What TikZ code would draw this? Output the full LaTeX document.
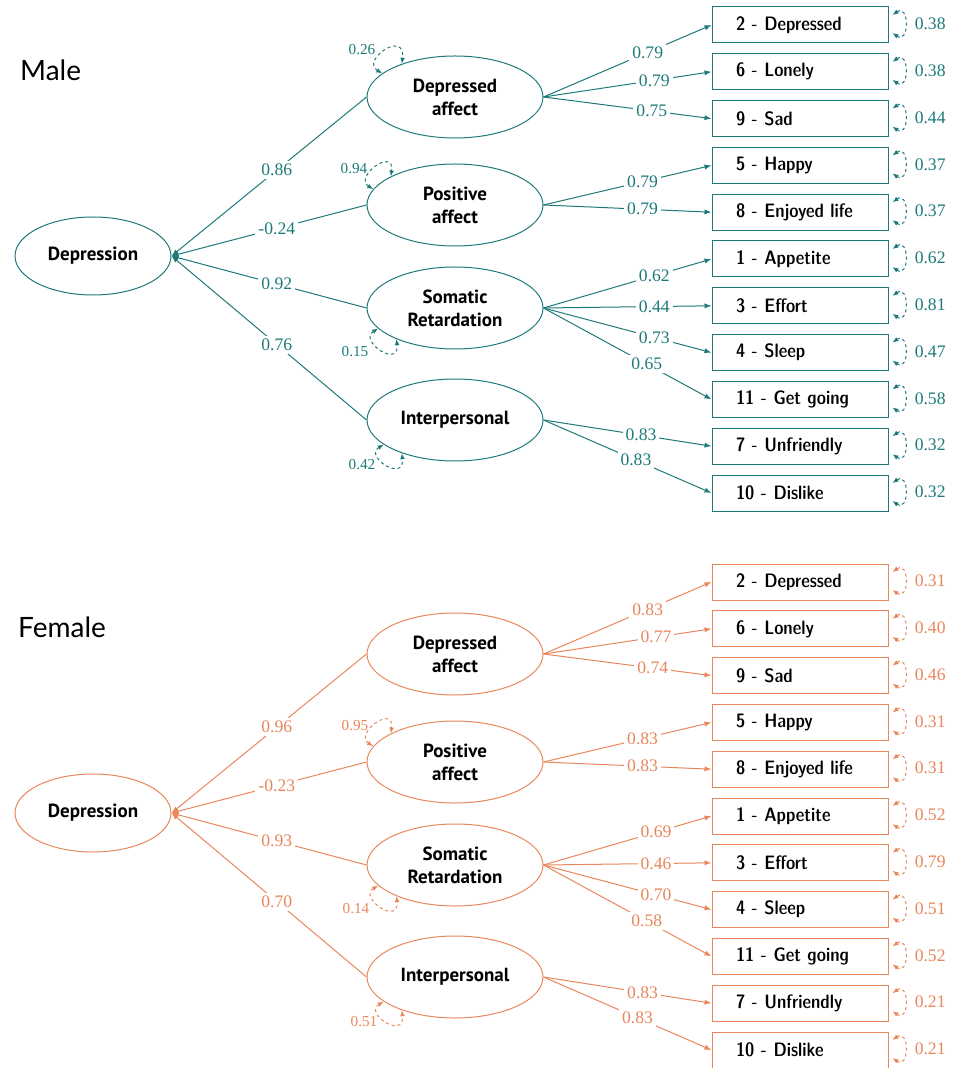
\documentclass[tikz,border=0pt]{standalone}
\usepackage{fontspec}
\usepackage{tikz}
\usetikzlibrary{arrows.meta, shapes}
\newfontfamily\labelfont{Lato}
\newfontfamily\latentfont{PT Sans}
\newfontfamily\itemfont{lmsansdemicond10-regular.otf}
\newfontfamily\coeffont{Liberation Serif}
\definecolor{maleteal}{RGB}{30,122,122}
\definecolor{femaleorange}{RGB}{234,134,92}
\tikzstyle{latent} = [draw, ellipse, text=black, inner sep=1pt, minimum width=88pt, minimum height=41pt, align=center, font=\latentfont\bfseries\fontsize{9.5}{11.5}\selectfont]
\tikzstyle{item} = [draw, rectangle, text=black, minimum height=18pt, text width=64pt, inner xsep=12pt, align=left, font=\itemfont\fontsize{9.7}{11}\selectfont]
\tikzstyle{line} = [draw, -{Latex[length=3.5pt, width=2.6pt]}]
\tikzstyle{coef} = [fill=white, inner sep=1.5pt, font=\coeffont\fontsize{8.8}{10}\selectfont]
\tikzstyle{smallcoef} = [inner sep=0pt, font=\coeffont\fontsize{7.6}{9}\selectfont]
\tikzstyle{var} = [draw, dash pattern=on 1.5pt off 1.5pt, {Latex[length=3pt, width=2.4pt]}-{Latex[length=3pt, width=2.4pt]}]
\tikzstyle{title} = [anchor=west, text=black, font=\labelfont\fontsize{14}{16}\selectfont]

\begin{document}
\begin{tikzpicture}[x=0.5pt, y=-0.5pt, node distance=23.4pt, line width=0.5pt]
    \useasboundingbox (0,0) rectangle (956,1068);

    % ---------------- Male ----------------
    \begin{scope}[maleteal]
    % Place nodes
    \node [title] (mtitle) at (13,70) {Male};
    \node [latent, minimum width=78pt, minimum height=39pt] (mdep) at (93,256) {Depression};
    \node [latent] (mda) at (455,97) {Depressed\\affect};
    \node [latent] (mpa) at (455,205) {Positive\\affect};
    \node [latent] (msr) at (455,308) {Somatic\\Retardation};
    \node [latent] (mip) at (455,420) {Interpersonal};

    \node [item] (m2) at (800,25) {2 - Depressed};
    \node [item, below of = m2] (m6) {6 - Lonely};
    \node [item, below of = m6] (m9) {9 - Sad};
    \node [item, below of = m9] (m5) {5 - Happy};
    \node [item, below of = m5] (m8) {8 - Enjoyed life};
    \node [item, below of = m8] (m1) {1 - Appetite};
    \node [item, below of = m1] (m3) {3 - Effort};
    \node [item, below of = m3] (m4) {4 - Sleep};
    \node [item, below of = m4] (m11) {11 - Get going};
    \node [item, below of = m11] (m7) {7 - Unfriendly};
    \node [item, below of = m7] (m10) {10 - Dislike};

    % Draw edges
    \path [line] (mda.west) -- node [coef, pos=0.46] (lmda) {0.86} (mdep.east);
    \path [line] (mpa.west) -- node [coef, pos=0.46] (lmpa) {-0.24} (mdep.east);
    \path [line] (msr.west) -- node [coef, pos=0.46] (lmsr) {0.92} (mdep.east);
    \path [line] (mip.west) -- node [coef, pos=0.46] (lmip) {0.76} (mdep.east);

    \path [line] (mda.east) -- node [coef, pos=0.62] (lm2) {0.79} (m2.west);
    \path [line] (mda.east) -- node [coef, pos=0.66] (lm6) {0.79} (m6.west);
    \path [line] (mda.east) -- node [coef, pos=0.645] (lm9) {0.75} (m9.west);
    \path [line] (mpa.east) -- node [coef, pos=0.59] (lm5) {0.79} (m5.west);
    \path [line] (mpa.east) -- node [coef, pos=0.59] (lm8) {0.79} (m8.west);
    \path [line] (msr.east) -- node [coef, pos=0.66] (lm1) {0.62} (m1.west);
    \path [line] (msr.east) -- node [coef, pos=0.66] (lm3) {0.44} (m3.west);
    \path [line] (msr.east) -- node [coef, pos=0.66] (lm4) {0.73} (m4.west);
    \path [line] (msr.east) -- node [coef, pos=0.615] (lm11) {0.65} (m11.west);
    \path [line] (mip.east) -- node [coef, pos=0.58] (lm7) {0.83} (m7.west);
    \path [line] (mip.east) -- node [coef, pos=0.55] (lm10) {0.83} (m10.west);

    % Variances of the factors
    \path [var] (mda.162) .. controls +(-22,-13) and +(4,-35) .. (mda.148);
    \node [smallcoef] (vmda) at (362,50) {0.26};
    \path [var] (mpa.169) .. controls +(-20,-12) and +(4,-30) .. (mpa.156);
    \node [smallcoef] (vmpa) at (354,169) {0.94};
    \path [var] (msr.195) .. controls +(-20,12) and +(3,30) .. (msr.208);
    \node [smallcoef] (vmsr) at (355,352) {0.15};
    \path [var] (mip.199) .. controls +(-20,12) and +(3,30) .. (mip.212);
    \node [smallcoef] (vmip) at (362,465) {0.42};

    % Residuals of the items
    \path [var] ([shift={(4,-10)}]m2.east) .. controls +(17,-12) and +(17,12) .. node [coef, pos=0.5, right=3pt] (rm2) {0.38} ([shift={(4,8)}]m2.east);
    \path [var] ([shift={(4,-10)}]m6.east) .. controls +(17,-12) and +(17,12) .. node [coef, pos=0.5, right=3pt] (rm6) {0.38} ([shift={(4,8)}]m6.east);
    \path [var] ([shift={(4,-10)}]m9.east) .. controls +(17,-12) and +(17,12) .. node [coef, pos=0.5, right=3pt] (rm9) {0.44} ([shift={(4,8)}]m9.east);
    \path [var] ([shift={(4,-10)}]m5.east) .. controls +(17,-12) and +(17,12) .. node [coef, pos=0.5, right=3pt] (rm5) {0.37} ([shift={(4,8)}]m5.east);
    \path [var] ([shift={(4,-10)}]m8.east) .. controls +(17,-12) and +(17,12) .. node [coef, pos=0.5, right=3pt] (rm8) {0.37} ([shift={(4,8)}]m8.east);
    \path [var] ([shift={(4,-10)}]m1.east) .. controls +(17,-12) and +(17,12) .. node [coef, pos=0.5, right=3pt] (rm1) {0.62} ([shift={(4,8)}]m1.east);
    \path [var] ([shift={(4,-10)}]m3.east) .. controls +(17,-12) and +(17,12) .. node [coef, pos=0.5, right=3pt] (rm3) {0.81} ([shift={(4,8)}]m3.east);
    \path [var] ([shift={(4,-10)}]m4.east) .. controls +(17,-12) and +(17,12) .. node [coef, pos=0.5, right=3pt] (rm4) {0.47} ([shift={(4,8)}]m4.east);
    \path [var] ([shift={(4,-10)}]m11.east) .. controls +(17,-12) and +(17,12) .. node [coef, pos=0.5, right=3pt] (rm11) {0.58} ([shift={(4,8)}]m11.east);
    \path [var] ([shift={(4,-10)}]m7.east) .. controls +(17,-12) and +(17,12) .. node [coef, pos=0.5, right=3pt] (rm7) {0.32} ([shift={(4,8)}]m7.east);
    \path [var] ([shift={(4,-10)}]m10.east) .. controls +(17,-12) and +(17,12) .. node [coef, pos=0.5, right=3pt] (rm10) {0.32} ([shift={(4,8)}]m10.east);
    \end{scope}

    % ---------------- Female ----------------
    \begin{scope}[femaleorange]
    % Place nodes
    \node [title] (ftitle) at (11,627) {Female};
    \node [latent, minimum width=78pt, minimum height=39pt] (fdep) at (93,813) {Depression};
    \node [latent] (fda) at (455,654) {Depressed\\affect};
    \node [latent] (fpa) at (455,762) {Positive\\affect};
    \node [latent] (fsr) at (455,865) {Somatic\\Retardation};
    \node [latent] (fip) at (455,977) {Interpersonal};

    \node [item] (f2) at (800,582) {2 - Depressed};
    \node [item, below of = f2] (f6) {6 - Lonely};
    \node [item, below of = f6] (f9) {9 - Sad};
    \node [item, below of = f9] (f5) {5 - Happy};
    \node [item, below of = f5] (f8) {8 - Enjoyed life};
    \node [item, below of = f8] (f1) {1 - Appetite};
    \node [item, below of = f1] (f3) {3 - Effort};
    \node [item, below of = f3] (f4) {4 - Sleep};
    \node [item, below of = f4] (f11) {11 - Get going};
    \node [item, below of = f11] (f7) {7 - Unfriendly};
    \node [item, below of = f7] (f10) {10 - Dislike};

    % Draw edges
    \path [line] (fda.west) -- node [coef, pos=0.46] (lfda) {0.96} (fdep.east);
    \path [line] (fpa.west) -- node [coef, pos=0.46] (lfpa) {-0.23} (fdep.east);
    \path [line] (fsr.west) -- node [coef, pos=0.46] (lfsr) {0.93} (fdep.east);
    \path [line] (fip.west) -- node [coef, pos=0.46] (lfip) {0.70} (fdep.east);

    \path [line] (fda.east) -- node [coef, pos=0.62] (lf2) {0.83} (f2.west);
    \path [line] (fda.east) -- node [coef, pos=0.67] (lf6) {0.77} (f6.west);
    \path [line] (fda.east) -- node [coef, pos=0.65] (lf9) {0.74} (f9.west);
    \path [line] (fpa.east) -- node [coef, pos=0.59] (lf5) {0.83} (f5.west);
    \path [line] (fpa.east) -- node [coef, pos=0.59] (lf8) {0.83} (f8.west);
    \path [line] (fsr.east) -- node [coef, pos=0.67] (lf1) {0.69} (f1.west);
    \path [line] (fsr.east) -- node [coef, pos=0.67] (lf3) {0.46} (f3.west);
    \path [line] (fsr.east) -- node [coef, pos=0.67] (lf4) {0.70} (f4.west);
    \path [line] (fsr.east) -- node [coef, pos=0.615] (lf11) {0.58} (f11.west);
    \path [line] (fip.east) -- node [coef, pos=0.59] (lf7) {0.83} (f7.west);
    \path [line] (fip.east) -- node [coef, pos=0.56] (lf10) {0.83} (f10.west);

    % Variances of the factors
    \path [var] (fpa.169) .. controls +(-20,-12) and +(4,-30) .. (fpa.156);
    \node [smallcoef] (vfpa) at (355,726) {0.95};
    \path [var] (fsr.195) .. controls +(-20,12) and +(3,30) .. (fsr.208);
    \node [smallcoef] (vfsr) at (356,909) {0.14};
    \path [var] (fip.199) .. controls +(-20,12) and +(3,30) .. (fip.212);
    \node [smallcoef] (vfip) at (364,1022) {0.51};

    % Residuals of the items
    \path [var] ([shift={(4,-10)}]f2.east) .. controls +(17,-12) and +(17,12) .. node [coef, pos=0.5, right=3pt] (rf2) {0.31} ([shift={(4,8)}]f2.east);
    \path [var] ([shift={(4,-10)}]f6.east) .. controls +(17,-12) and +(17,12) .. node [coef, pos=0.5, right=3pt] (rf6) {0.40} ([shift={(4,8)}]f6.east);
    \path [var] ([shift={(4,-10)}]f9.east) .. controls +(17,-12) and +(17,12) .. node [coef, pos=0.5, right=3pt] (rf9) {0.46} ([shift={(4,8)}]f9.east);
    \path [var] ([shift={(4,-10)}]f5.east) .. controls +(17,-12) and +(17,12) .. node [coef, pos=0.5, right=3pt] (rf5) {0.31} ([shift={(4,8)}]f5.east);
    \path [var] ([shift={(4,-10)}]f8.east) .. controls +(17,-12) and +(17,12) .. node [coef, pos=0.5, right=3pt] (rf8) {0.31} ([shift={(4,8)}]f8.east);
    \path [var] ([shift={(4,-10)}]f1.east) .. controls +(17,-12) and +(17,12) .. node [coef, pos=0.5, right=3pt] (rf1) {0.52} ([shift={(4,8)}]f1.east);
    \path [var] ([shift={(4,-10)}]f3.east) .. controls +(17,-12) and +(17,12) .. node [coef, pos=0.5, right=3pt] (rf3) {0.79} ([shift={(4,8)}]f3.east);
    \path [var] ([shift={(4,-10)}]f4.east) .. controls +(17,-12) and +(17,12) .. node [coef, pos=0.5, right=3pt] (rf4) {0.51} ([shift={(4,8)}]f4.east);
    \path [var] ([shift={(4,-10)}]f11.east) .. controls +(17,-12) and +(17,12) .. node [coef, pos=0.5, right=3pt] (rf11) {0.52} ([shift={(4,8)}]f11.east);
    \path [var] ([shift={(4,-10)}]f7.east) .. controls +(17,-12) and +(17,12) .. node [coef, pos=0.5, right=3pt] (rf7) {0.21} ([shift={(4,8)}]f7.east);
    \path [var] ([shift={(4,-10)}]f10.east) .. controls +(17,-12) and +(17,12) .. node [coef, pos=0.5, right=3pt] (rf10) {0.21} ([shift={(4,8)}]f10.east);
    \end{scope}
\end{tikzpicture}
\end{document}
